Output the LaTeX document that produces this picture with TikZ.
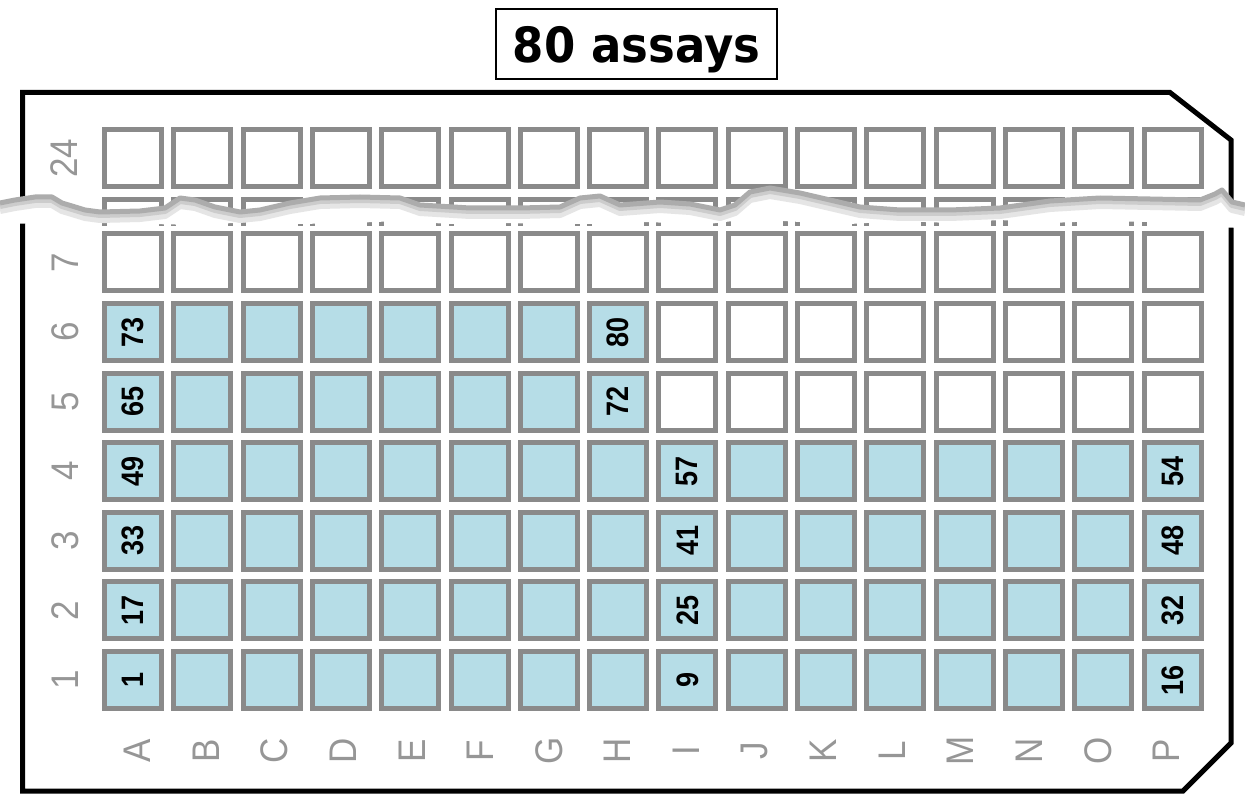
\documentclass[tikz,border=0pt]{standalone}
\usepackage{graphicx}
\usepackage{fontspec}
\setmainfont{Liberation Sans}
\newfontfamily\titlefont{DejaVu Sans}
\usepackage{xcolor}
\definecolor{wellblue}{RGB}{182,221,231}
\definecolor{wellgray}{RGB}{138,138,138}
\definecolor{labelgray}{RGB}{150,150,150}

\begin{document}
\begin{tikzpicture}[x=1pt,y=-1pt,
  well/.style={draw=wellgray,line width=5pt,minimum size=57pt,inner sep=0pt,fill=white},
  wellno/.style={rotate=90,inner sep=0pt,font=\fontsize{27}{27}\selectfont\bfseries},
  axislbl/.style={rotate=90,inner sep=0pt,text=labelgray,font=\fontsize{35}{35}\selectfont}]
  \useasboundingbox (0,0) rectangle (1245,794);
  % title
  \node[draw,line width=2pt,minimum width=281pt,minimum height=70pt,inner sep=0pt,
    text height=36pt,text depth=0pt,font=\titlefont\bfseries\fontsize{45}{45}\selectfont]
    (title) at (636.5,44.5) {\scalebox{1}[1.08]{80 assays}};
  % plate outline
  \draw[line width=5pt] (22.5,92.5) -- (1170,92.5) -- (1231,140) -- (1231,743) -- (1183,791) -- (22.5,791) -- cycle;
  % wells
  \foreach \i in {1,...,16}{
    \pgfmathsetmacro\cx{133+69.3*(\i-1)}
    \node[well] (w-\i-24) at (\cx,158) {};
    \draw[wellgray,line width=5pt] (\cx-28.5,226) -- (\cx-28.5,199.5) -- (\cx+28.5,199.5) -- (\cx+28.5,226);
    \foreach \r in {1,...,7}{
      \pgfmathtruncatemacro\isblue{or(\r<5,and(\r<7,\i<9))}
      \ifnum\isblue=1 \def\wfill{wellblue}\else\def\wfill{white}\fi
      \node[well,fill=\wfill] (w-\i-\r) at (\cx,{680-69.6*(\r-1)}) {};
    }
  }
  % torn strip
  \def\tearU{(0,203) -- (15,200) -- (35,197) -- (52,197) -- (62,203) -- (72,206) -- (85,210) -- (100,212)
    -- (140,211) -- (165,208) -- (180,198) -- (195,200) -- (215,207) -- (240,212) -- (260,210) -- (290,203)
    -- (320,198) -- (360,197) -- (400,198) -- (420,205) -- (470,208) -- (520,208) -- (560,207) -- (580,198)
    -- (600,196) -- (620,205) -- (660,202) -- (690,204) -- (720,210) -- (735,205) -- (750,192) -- (770,188)
    -- (800,193) -- (830,200) -- (860,207) -- (900,210) -- (950,210) -- (1000,208) -- (1050,201) -- (1100,198)
    -- (1150,199) -- (1200,200) -- (1215,194) -- (1222,190) -- (1232,202) -- (1245,205)}
  \fill[white] \tearU -- (1245,228) -- (1200,227) -- (1150,222) -- (1100,221) -- (1050,223) -- (1000,220)
    -- (950,223) -- (900,221) -- (850,224) -- (800,222) -- (750,219) -- (700,225) -- (650,222) -- (600,224)
    -- (550,224) -- (500,223) -- (450,224) -- (400,221) -- (350,223) -- (300,224) -- (250,222) -- (200,225)
    -- (150,224) -- (100,223) -- (75,224) -- (50,223) -- (0,224) -- cycle;
  \draw[gray!20,line width=8pt,line join=round,yshift=-7pt] \tearU;
  \draw[gray!40,line width=6pt,line join=round,yshift=-3pt] \tearU;
  \draw[gray!65,line width=5pt,line join=round] \tearU;
  % assay numbers
  \foreach \i/\r/\t in {1/1/1,1/2/17,1/3/33,1/4/49,1/5/65,1/6/73,9/1/9,16/1/16,9/2/25,16/2/32,
      9/3/41,16/3/48,9/4/57,16/4/54,8/5/72,8/6/80}
    \node[wellno] (n-\i-\r) at (w-\i-\r) {\scalebox{1}[1.15]{\t}};
  % row and column labels
  \foreach \r in {1,...,7}
    \node[axislbl] (row-\r) at (65,{680-69.6*(\r-1)}) {\scalebox{1}[1.1]{\r}};
  \node[axislbl] (row-24) at (64,158) {\scalebox{1}[1.1]{24}};
  \foreach \c [count=\i] in {A,B,C,D,E,F,G,H,I,J,K,L,M,N,O,P}
    \node[axislbl] (col-\c) at ({137.5+68.6*(\i-1)},751) {\scalebox{1}[1.1]{\c}};
\end{tikzpicture}
\end{document}
